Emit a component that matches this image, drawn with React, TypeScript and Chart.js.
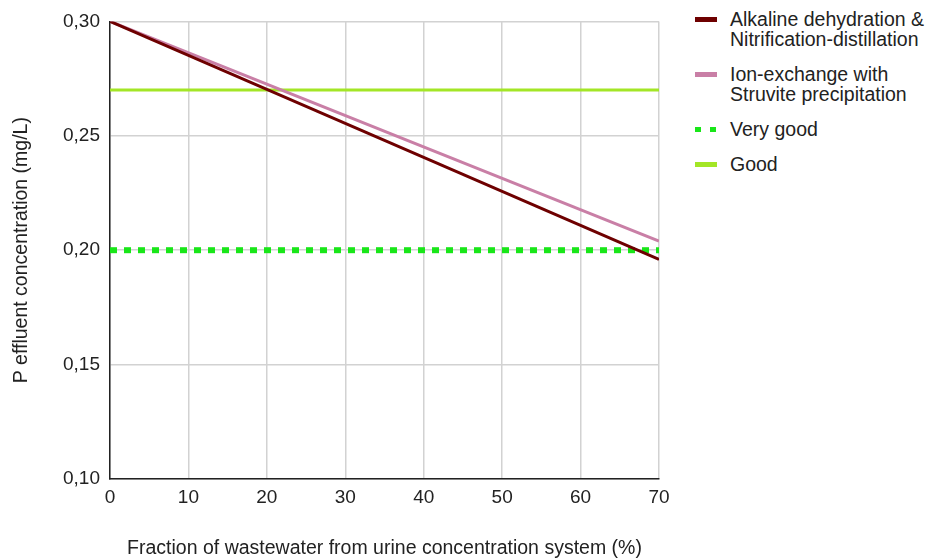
import React, { useEffect, useRef } from "react";
import { Chart, registerables } from "chart.js";

Chart.register(...registerables);

const xRange = [0, 70];
const alkalineValues = [0.3, 0.196];
const ionExchangeValues = [0.3, 0.204];
const veryGoodValues = [0.2, 0.2];
const goodValues = [0.27, 0.27];
const yTicks = [0.1, 0.15, 0.2, 0.25, 0.3];

const seriesNames = [
  ["Alkaline dehydration &", "Nitrification-distillation"],
  ["Ion-exchange with", "Struvite precipitation"],
  ["Very good"],
  ["Good"],
];
const colors = ["#6e0000", "#c97fa6", "#19e619", "#a3e626"];

const FONT = "'Liberation Sans', Arial, Helvetica, sans-serif";

const pts = (vals: number[]) => vals.map((y, i) => ({ x: xRange[i], y }));

export default function App() {
  const ref = useRef<HTMLCanvasElement>(null);
  useEffect(() => {
    document.body.style.margin = "0";
    const ctx = ref.current!;
    const chart = new Chart(ctx, {
      type: "line",
      data: {
        datasets: [
          { label: seriesNames[0].join(" "), data: pts(alkalineValues), borderColor: colors[0], borderWidth: 3, pointRadius: 0 },
          { label: seriesNames[1].join(" "), data: pts(ionExchangeValues), borderColor: colors[1], borderWidth: 3, pointRadius: 0 },
          { label: seriesNames[2].join(" "), data: pts(veryGoodValues), borderColor: colors[2], borderWidth: 6, borderDash: [7, 7], borderCapStyle: "butt", pointRadius: 0 },
          { label: seriesNames[3].join(" "), data: pts(goodValues), borderColor: colors[3], borderWidth: 3, pointRadius: 0 },
        ],
      },
      options: {
        animation: false,
        responsive: false,
        layout: { padding: { top: 21, right: 21, left: 0, bottom: 0 } },
        plugins: { legend: { display: false }, tooltip: { enabled: false } },
        scales: {
          x: {
            type: "linear",
            min: 0,
            max: 70,
            ticks: { stepSize: 10, color: "#222", font: { family: FONT, size: 19 }, padding: 7 },
            grid: { color: "#d2d2d2", lineWidth: 1.5, drawTicks: false },
            border: { color: "#222", width: 1.5 },
            title: { display: true, text: "Fraction of wastewater from urine concentration system (%)", color: "#222", font: { family: FONT, size: 19.5 }, padding: { top: 0, bottom: 0 } },
            afterFit: (s: any) => { s.height = 81; },
          },
          y: {
            min: 0.1,
            max: 0.3,
            afterBuildTicks: (s: any) => { s.ticks = yTicks.map((v) => ({ value: v })); },
            ticks: { color: "#222", font: { family: FONT, size: 19 }, padding: 10, callback: (v: any) => Number(v).toFixed(2).replace(".", ",") },
            grid: { color: "#d2d2d2", lineWidth: 1.5, drawTicks: false },
            border: { color: "#222", width: 1.5 },
            title: { display: true, text: "P effluent concentration (mg/L)", color: "#222", font: { family: FONT, size: 19.5 }, padding: { top: 10, bottom: 0 } },
            afterFit: (s: any) => { s.width = 110; },
          },
        },
      },
    });
    return () => chart.destroy();
  }, []);

  return (
    <div style={{ position: "relative", width: 928, height: 560, background: "#fff" }}>
      <canvas ref={ref} width={680} height={560} style={{ position: "absolute", left: 0, top: 0 }} />
      <div style={{ position: "absolute", left: 695, top: 9, fontFamily: FONT, fontSize: 19.5, color: "#222", lineHeight: "20px", whiteSpace: "nowrap" }}>
        {seriesNames.map((lines, i) => (
          <div key={i} style={{ position: "relative", paddingLeft: 35, marginBottom: 15 }}>
            <span
              style={{
                position: "absolute",
                left: 0,
                top: 8,
                width: 22,
                height: 5,
                background: i === 2 ? `linear-gradient(to right, ${colors[2]} 0 6px, transparent 6px 15px, ${colors[2]} 15px 21px, transparent 21px)` : colors[i],
              }}
            />
            {lines.map((l, j) => (
              <div key={j}>{l}</div>
            ))}
          </div>
        ))}
      </div>
    </div>
  );
}
